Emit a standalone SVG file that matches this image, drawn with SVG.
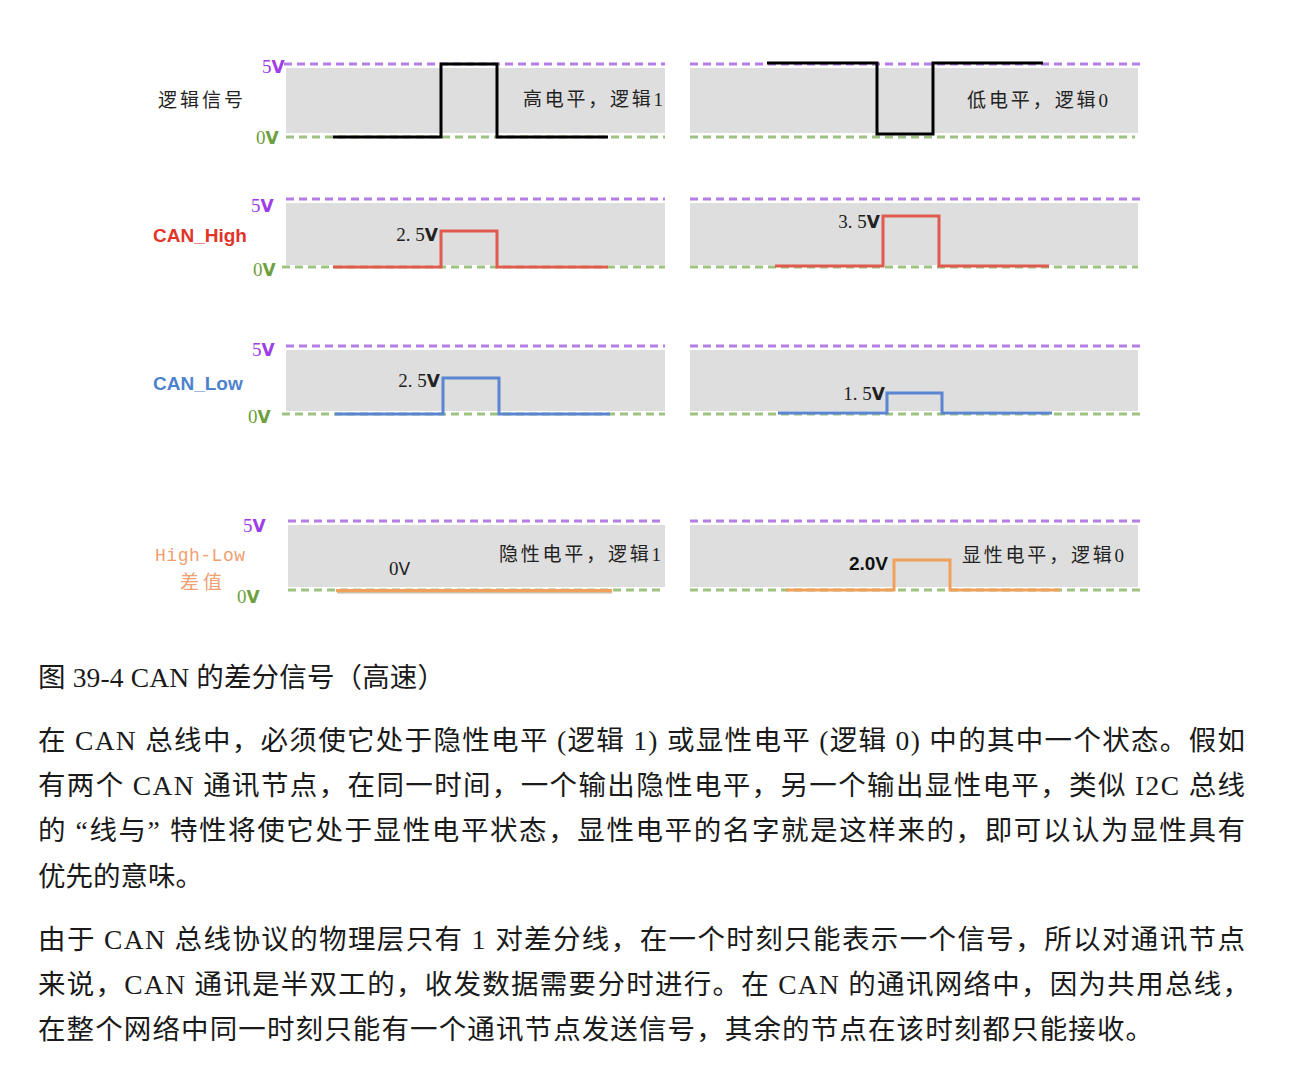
<svg xmlns="http://www.w3.org/2000/svg" width="1298" height="1084" viewBox="0 0 1298 1084">
<style>
.bg{fill:#dedede}
.p5{stroke:#b47ee6;stroke-width:3;stroke-dasharray:8 5;fill:none}
.g0{stroke:#9dc282;stroke-width:3;stroke-dasharray:8 5;fill:none}
.sig{fill:none;stroke-width:3;stroke-linejoin:miter}
.lbl{font-family:"Liberation Serif","Noto Sans CJK SC",serif;font-size:19px;fill:#222}
.v5{font-family:"Liberation Serif","DejaVu Sans",serif;font-size:19px;fill:#9d3ee8}
.v0{font-family:"Liberation Serif","DejaVu Sans",serif;font-size:19px;fill:#6e9f3e}
.body{font-family:"Liberation Serif","Noto Sans CJK SC",serif;font-size:27.5px;fill:#1a1a1a}
.sans{font-family:"Liberation Sans","Noto Sans CJK SC",sans-serif;font-weight:bold;font-size:19px}
</style>
<rect width="1298" height="1084" fill="#ffffff"/>

<g id="row1">
<rect class="bg" x="286" y="68" width="379" height="65"/>
<rect class="bg" x="690" y="68" width="448" height="65"/>
<line class="p5" x1="284" y1="64" x2="665" y2="64"/>
<line class="p5" x1="690" y1="64" x2="1143" y2="64"/>
<line class="g0" x1="286" y1="137" x2="665" y2="137"/>
<line class="g0" x1="690" y1="137" x2="1135" y2="137"/>
<polyline class="sig" stroke="#000" points="333,137 441,137 441,64 497,64 497,137 608,137"/>
<polyline class="sig" stroke="#000" points="767,63 877,63 877,134 933,134 933,63 1043,63"/>
<text class="lbl" x="158" y="107" textLength="85" lengthAdjust="spacing">逻辑信号</text>
<text class="v5" x="262" y="73">5<tspan font-family="DejaVu Sans" font-weight="bold" font-size="17">V</tspan></text>
<text class="v0" x="256" y="144">0<tspan font-family="DejaVu Sans" font-weight="bold" font-size="17">V</tspan></text>
<text class="lbl" x="523" y="106" textLength="140" lengthAdjust="spacing">高电平，逻辑1</text>
<text class="lbl" x="967" y="107" textLength="141" lengthAdjust="spacing">低电平，逻辑0</text>
</g>

<g id="row2">
<rect class="bg" x="286" y="203" width="379" height="62"/>
<rect class="bg" x="690" y="203" width="448" height="62"/>
<line class="p5" x1="286" y1="199" x2="665" y2="199"/>
<line class="p5" x1="690" y1="199" x2="1140" y2="199"/>
<line class="g0" x1="282" y1="267" x2="665" y2="267"/>
<line class="g0" x1="690" y1="267" x2="1138" y2="267"/>
<polyline class="sig" stroke="#e05a4e" points="333,267 441,267 441,231 497,231 497,267 608,267"/>
<polyline class="sig" stroke="#e05a4e" points="775,266 883,266 883,216 939,216 939,266 1049,266"/>
<text class="sans" x="153" y="242" fill="#e2352a">CAN_High</text>
<text class="v5" x="251" y="212">5<tspan font-family="DejaVu Sans" font-weight="bold" font-size="17">V</tspan></text>
<text class="v0" x="253" y="276">0<tspan font-family="DejaVu Sans" font-weight="bold" font-size="17">V</tspan></text>
<text class="lbl" x="438" y="241" text-anchor="end">2. 5<tspan font-family="DejaVu Sans" font-weight="bold" font-size="17">V</tspan></text>
<text class="lbl" x="880" y="228" text-anchor="end">3. 5<tspan font-family="DejaVu Sans" font-weight="bold" font-size="17">V</tspan></text>
</g>

<g id="row3">
<rect class="bg" x="286" y="350" width="379" height="61"/>
<rect class="bg" x="690" y="350" width="448" height="61"/>
<line class="p5" x1="286" y1="346" x2="665" y2="346"/>
<line class="p5" x1="690" y1="346" x2="1140" y2="346"/>
<line class="g0" x1="282" y1="414" x2="665" y2="414"/>
<line class="g0" x1="690" y1="414" x2="1140" y2="414"/>
<polyline class="sig" stroke="#5b84d1" points="335,414 443,414 443,378 499,378 499,414 610,414"/>
<polyline class="sig" stroke="#5b84d1" points="778,413 887,413 887,393 942,393 942,413 1052,413"/>
<text class="sans" x="153" y="390" fill="#4f82cc">CAN_Low</text>
<text class="v5" x="252" y="356">5<tspan font-family="DejaVu Sans" font-weight="bold" font-size="17">V</tspan></text>
<text class="v0" x="248" y="423">0<tspan font-family="DejaVu Sans" font-weight="bold" font-size="17">V</tspan></text>
<text class="lbl" x="440" y="387" text-anchor="end">2. 5<tspan font-family="DejaVu Sans" font-weight="bold" font-size="17">V</tspan></text>
<text class="lbl" x="885" y="400" text-anchor="end">1. 5<tspan font-family="DejaVu Sans" font-weight="bold" font-size="17">V</tspan></text>
</g>

<g id="row4">
<rect class="bg" x="288" y="525" width="377" height="62"/>
<rect class="bg" x="690" y="525" width="448" height="62"/>
<line class="p5" x1="288" y1="521" x2="665" y2="521"/>
<line class="p5" x1="690" y1="521" x2="1143" y2="521"/>
<line class="g0" x1="288" y1="590" x2="665" y2="590"/>
<line class="g0" x1="690" y1="590" x2="1142" y2="590"/>
<line x1="337" y1="592.5" x2="612" y2="592.5" stroke="#b0906a" stroke-width="2" opacity="0.6"/>
<line x1="336" y1="590.5" x2="612" y2="590.5" stroke="#f0a05a" stroke-width="3"/>
<polyline class="sig" stroke="#f0a05a" points="786,590 894,590 894,560 950,560 950,590 1060,590"/>
<text x="155" y="561" font-family="Liberation Mono, DejaVu Sans Mono, monospace" font-size="18" fill="#f0a070" textLength="90" lengthAdjust="spacing">High-Low</text>
<text x="180" y="589" font-family="Liberation Serif, Noto Sans CJK SC, serif" font-size="19" fill="#f0a070" textLength="42" lengthAdjust="spacing">差值</text>
<text class="v5" x="243" y="532">5<tspan font-family="DejaVu Sans" font-weight="bold" font-size="17">V</tspan></text>
<text class="v0" x="237" y="603">0<tspan font-family="DejaVu Sans" font-weight="bold" font-size="17">V</tspan></text>
<text class="lbl" x="389" y="575">0<tspan font-family="DejaVu Sans" font-size="17">V</tspan></text>
<text class="lbl" x="499" y="561" textLength="162" lengthAdjust="spacing">隐性电平，逻辑1</text>
<text class="sans" x="888" y="570" text-anchor="end" fill="#111" font-size="18">2.0V</text>
<text class="lbl" x="962" y="562" textLength="162" lengthAdjust="spacing">显性电平，逻辑0</text>
</g>

<g id="text">
<text class="body" x="38" y="687" textLength="407" lengthAdjust="spacing">图 39-4 CAN 的差分信号（高速）</text>
<text class="body" x="38" y="750" textLength="1207" lengthAdjust="spacing">在 CAN 总线中，必须使它处于隐性电平 (逻辑 1) 或显性电平 (逻辑 0) 中的其中一个状态。假如</text>
<text class="body" x="38" y="795" textLength="1207" lengthAdjust="spacing">有两个 CAN 通讯节点，在同一时间，一个输出隐性电平，另一个输出显性电平，类似 I2C 总线</text>
<text class="body" x="38" y="840" textLength="1207" lengthAdjust="spacing">的 “线与” 特性将使它处于显性电平状态，显性电平的名字就是这样来的，即可以认为显性具有</text>
<text class="body" x="38" y="886">优先的意味。</text>
<text class="body" x="38" y="949" textLength="1207" lengthAdjust="spacing">由于 CAN 总线协议的物理层只有 1 对差分线，在一个时刻只能表示一个信号，所以对通讯节点</text>
<text class="body" x="38" y="994" textLength="1212" lengthAdjust="spacing">来说，CAN 通讯是半双工的，收发数据需要分时进行。在 CAN 的通讯网络中，因为共用总线，</text>
<text class="body" x="38" y="1039" textLength="1115" lengthAdjust="spacing">在整个网络中同一时刻只能有一个通讯节点发送信号，其余的节点在该时刻都只能接收。</text>
</g>
</svg>
